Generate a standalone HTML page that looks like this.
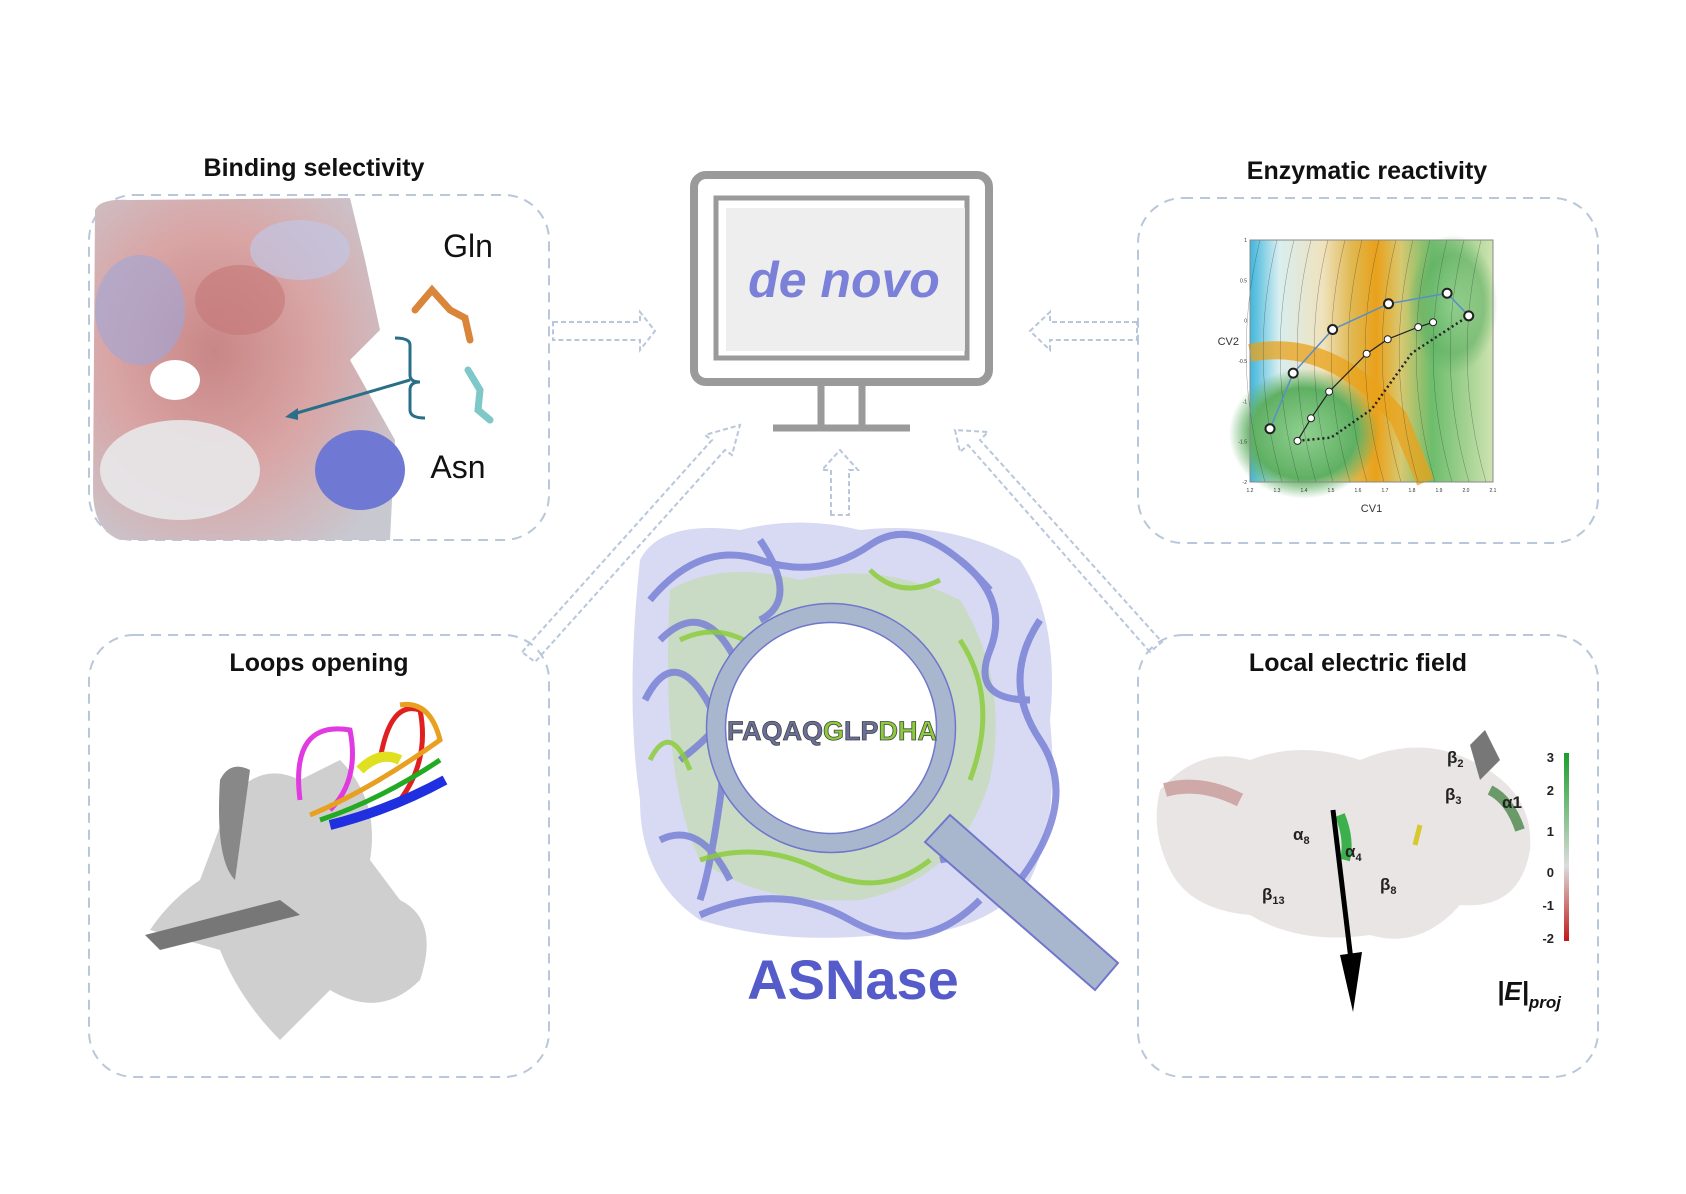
<!DOCTYPE html>
<html><head><meta charset="utf-8">
<style>
html,body{margin:0;padding:0;background:#fff;}
svg{display:block;}
text{font-family:"Liberation Sans",sans-serif;}
</style></head>
<body>
<svg width="1686" height="1194" viewBox="0 0 1686 1194" xmlns="http://www.w3.org/2000/svg">
<defs>
<radialGradient id="surf" cx="0.4" cy="0.45" r="0.7">
<stop offset="0" stop-color="#c98686"/><stop offset="0.5" stop-color="#d9a5a5"/><stop offset="1" stop-color="#c8c8d0"/></radialGradient>
<radialGradient id="g1" cx="0.5" cy="0.5" r="0.5"><stop offset="0" stop-color="#8fd08f"/><stop offset="0.7" stop-color="#5fb063"/><stop offset="1" stop-color="#5fb063" stop-opacity="0"/></radialGradient>
<linearGradient id="cmap" x1="0" x2="1" y1="0" y2="0">
<stop offset="0" stop-color="#3fb6dc"/><stop offset="0.12" stop-color="#d8eef0"/><stop offset="0.3" stop-color="#efe2bd"/><stop offset="0.42" stop-color="#e0b850"/><stop offset="0.52" stop-color="#e9a11a"/><stop offset="0.62" stop-color="#d8c870"/><stop offset="0.75" stop-color="#6cbd6c"/><stop offset="1" stop-color="#cfe3b0"/></linearGradient>
<linearGradient id="cbar" x1="0" x2="0" y1="0" y2="1"><stop offset="0" stop-color="#1a9e2a"/><stop offset="0.6" stop-color="#dcdcdc"/><stop offset="1" stop-color="#c01818"/></linearGradient>
</defs>

<g fill="none" stroke="#b8c7da" stroke-width="2" stroke-dasharray="10 7">
<rect x="89" y="195" width="460" height="345" rx="45"/>
<rect x="1138" y="198" width="460" height="345" rx="45"/>
<rect x="89" y="635" width="460" height="442" rx="45"/>
<rect x="1138" y="635" width="460" height="442" rx="45"/>
</g>

<g font-weight="bold" font-size="25" fill="#111" text-anchor="middle">
<text x="314" y="176">Binding selectivity</text>
<text x="1367" y="179">Enzymatic reactivity</text>
<text x="319" y="671">Loops opening</text>
<text x="1358" y="671">Local electric field</text>
</g>

<g>
<path d="M95 210 Q100 198 130 200 L350 198 L365 260 L380 330 L350 360 L395 440 L390 540 L120 540 Q93 530 93 490 Z" fill="url(#surf)"/>
<ellipse cx="140" cy="310" rx="45" ry="55" fill="#9fa6d9" opacity="0.6"/>
<ellipse cx="175" cy="380" rx="25" ry="20" fill="#fff"/>
<ellipse cx="180" cy="470" rx="80" ry="50" fill="#e8e8ea" opacity="0.9"/>
<ellipse cx="360" cy="470" rx="45" ry="40" fill="#6f79d4"/>
<ellipse cx="300" cy="250" rx="50" ry="30" fill="#c2c6e4" opacity="0.7"/>
<ellipse cx="240" cy="300" rx="45" ry="35" fill="#c47676" opacity="0.6"/>
<path d="M395 338 Q410 338 410 345 L410 375 Q410 382 420 382 Q410 382 410 390 L410 410 Q410 418 425 418" fill="none" stroke="#2a6f8a" stroke-width="3"/>
<line x1="410" y1="380" x2="290" y2="415" stroke="#2a6f8a" stroke-width="3"/>
<polygon points="285,417 298,408 298,420" fill="#2a6f8a"/>
<text x="468" y="257" font-family="Liberation Serif,serif" font-size="32" text-anchor="middle" fill="#111">Gln</text>
<text x="458" y="478" font-family="Liberation Serif,serif" font-size="32" text-anchor="middle" fill="#111">Asn</text>
<path d="M415 310 L432 290 L450 310 L465 318 L470 340" stroke="#d9853a" stroke-width="7" fill="none" stroke-linecap="round"/>
<path d="M468 370 L480 390 L478 410 L490 420" stroke="#7fc8c8" stroke-width="7" fill="none" stroke-linecap="round"/>
</g>

<g fill="none" stroke="#b8c7da" stroke-width="2" stroke-dasharray="5 3">
<path d="M553 322 L640 322 L640 312 L655 331 L640 350 L640 340 L553 340 Z"/>
<path d="M1137 322 L1050 322 L1050 312 L1030 331 L1050 350 L1050 340 L1137 340 Z"/>
<path d="M831 515 L831 470 L822 470 L840 450 L858 470 L849 470 L849 515 Z"/>
<path d="M522 652 L712 440 L705 435 L740 425 L732 455 L725 450 L535 662 Z"/>
<path d="M1150 652 L968 445 L960 452 L955 430 L988 432 L980 440 L1162 642 Z"/>
</g>

<g>
<rect x="694" y="175" width="295" height="207" rx="12" fill="#fff" stroke="#9a9a9a" stroke-width="8"/>
<rect x="716" y="198" width="251" height="160" fill="#fff" stroke="#9a9a9a" stroke-width="5"/>
<rect x="726" y="208" width="239" height="143" fill="#eeeeee"/>
<line x1="821" y1="382" x2="821" y2="427" stroke="#9a9a9a" stroke-width="7"/>
<line x1="862" y1="382" x2="862" y2="427" stroke="#9a9a9a" stroke-width="7"/>
<line x1="773" y1="428" x2="910" y2="428" stroke="#9a9a9a" stroke-width="7"/>
<text x="844" y="297" font-size="50" font-weight="bold" font-style="italic" fill="#7b80d8" text-anchor="middle">de novo</text>
</g>

<g>
<path d="M640 560 Q660 520 740 530 Q800 515 860 530 Q950 520 1020 560 Q1060 620 1050 720 Q1060 820 1030 880 Q980 940 880 935 Q780 945 700 920 Q640 880 640 800 Q625 700 640 560 Z" fill="#8f95dd" opacity="0.35"/>
<path d="M670 590 Q720 560 800 580 Q880 560 960 600 Q1010 680 990 780 Q960 880 860 900 Q760 905 700 860 Q660 780 670 590 Z" fill="#a6dd5e" opacity="0.3"/>
<g fill="none" stroke="#7a81d6" stroke-width="7" opacity="0.85">
<path d="M650 600 Q700 540 760 560 T870 545 T990 590"/>
<path d="M645 700 Q670 650 700 690 T720 800 T700 900"/>
<path d="M1040 620 Q1000 680 1040 740 T1020 880"/>
<path d="M700 915 Q780 880 850 920 T980 900"/>
<path d="M660 640 Q700 600 730 650 T680 760"/>
<path d="M960 560 Q1010 600 990 650 T1030 700"/>
<path d="M660 840 Q700 820 730 880"/>
<path d="M940 860 Q980 850 1000 900"/>
<path d="M760 540 Q800 600 760 620"/>
</g>
<g fill="none" stroke="#8ccc3c" stroke-width="5" opacity="0.85">
<path d="M680 640 Q720 620 760 650 T850 620"/>
<path d="M960 640 Q1000 700 970 780"/>
<path d="M700 860 Q760 840 820 870 T930 860"/>
<path d="M650 760 Q670 720 690 770"/>
<path d="M870 570 Q900 600 940 580"/>
</g>
</g>
<g>
<polygon points="925,842 950,815 1118,963 1095,990" fill="#a9b7ce" stroke="#6f76cc" stroke-width="2"/>
<circle cx="831" cy="728" r="115" fill="#fff" stroke="#a9b7ce" stroke-width="19"/>
<circle cx="831" cy="728" r="124.5" fill="none" stroke="#6f76cc" stroke-width="1.5"/>
<circle cx="831" cy="728" r="105.5" fill="none" stroke="#6f76cc" stroke-width="1.5"/>
<text x="832" y="740" font-size="27" font-weight="bold" text-anchor="middle" fill="#6a6f9a" stroke="#444" stroke-width="0.8">FAQAQ<tspan fill="#8ccc3c">G</tspan>LP<tspan fill="#8ccc3c">DHA</tspan></text>
</g>
<text x="853" y="999" font-size="56" font-weight="bold" fill="#555bc9" text-anchor="middle">ASNase</text>

<g>
<path d="M230 800 Q260 760 300 780 L340 760 Q380 800 370 860 L400 900 Q440 920 420 980 Q380 1020 330 990 L280 1040 Q240 1000 220 950 L150 930 Q170 900 200 880 Z" fill="#cfcfcf"/>
<path d="M220 780 Q230 760 250 770 L235 880 Q215 860 220 780Z" fill="#888"/>
<path d="M145 935 L280 900 L300 915 L160 950 Z" fill="#777"/>
<g fill="none" stroke-width="5">
<path d="M300 800 Q290 720 350 730 Q360 780 330 810" stroke="#e03ae0"/>
<path d="M380 760 Q390 700 420 710 Q430 760 400 800" stroke="#e02020"/>
<path d="M320 820 Q380 800 440 760" stroke="#22aa22"/>
<path d="M330 825 Q390 810 445 780" stroke="#2030e0" stroke-width="10"/>
<path d="M310 815 Q370 790 440 740 Q430 700 400 705" stroke="#e8a020"/>
<path d="M360 770 Q380 750 400 760" stroke="#e0e020" stroke-width="10"/>
</g>
</g>

<g id="fes"></g>

<g>
<path d="M1160 790 Q1200 745 1250 760 Q1300 740 1360 760 Q1420 735 1470 760 Q1535 790 1530 850 Q1520 910 1460 905 Q1420 950 1370 935 Q1300 945 1250 915 Q1190 910 1170 870 Q1150 830 1160 790 Z" fill="#e6e1e1" opacity="0.85"/>
<path d="M1165 790 Q1200 780 1240 800" stroke="#cfa8a8" stroke-width="14" fill="none"/>
<path d="M1470 745 L1485 730 L1500 760 L1480 780 Z" fill="#777"/>
<path d="M1490 790 Q1510 800 1520 830" stroke="#6a9a6a" stroke-width="10" fill="none"/>
<path d="M1340 815 Q1350 840 1345 860" stroke="#3cb04c" stroke-width="10" fill="none"/>
<path d="M1420 825 L1415 845" stroke="#d8c830" stroke-width="5"/>
<line x1="1333" y1="810" x2="1351" y2="960" stroke="#000" stroke-width="5"/>
<polygon points="1340,955 1362,952 1353,1012" fill="#000"/>
<g font-size="17" font-weight="bold" fill="#222">
<text x="1293" y="840">α<tspan font-size="11" dy="4">8</tspan></text>
<text x="1262" y="900">β<tspan font-size="11" dy="4">13</tspan></text>
<text x="1345" y="857">α<tspan font-size="11" dy="4">4</tspan></text>
<text x="1380" y="890">β<tspan font-size="11" dy="4">8</tspan></text>
<text x="1445" y="800">β<tspan font-size="11" dy="4">3</tspan></text>
<text x="1447" y="763">β<tspan font-size="11" dy="4">2</tspan></text>
<text x="1502" y="808">α1</text>
</g>
<rect x="1564" y="753" width="5" height="188" fill="url(#cbar)"/>
<g font-size="13" font-weight="bold" fill="#222" text-anchor="end">
<text x="1554" y="762">3</text><text x="1554" y="795">2</text><text x="1554" y="836">1</text><text x="1554" y="877">0</text><text x="1554" y="910">-1</text><text x="1554" y="943">-2</text>
</g>
<text x="1497" y="1000" font-family="Liberation Serif,serif" font-size="26" font-weight="bold" font-style="italic" fill="#111">|E|<tspan font-size="17" dy="8">proj</tspan></text>
</g>

<script>
const cv1Ticks=[1.2,1.3,1.4,1.5,1.6,1.7,1.8,1.9,2.0,2.1];
const cv2Ticks=[1,0.5,0,-0.5,-1,-1.5,-2];
const pathCV1=[1.274,1.36,1.506,1.713,1.93,2.01];
const pathCV2=[-1.34,-0.65,-0.11,0.21,0.34,0.06];
const midCV1=[1.376,1.426,1.493,1.632,1.71,1.823,1.878];
const midCV2=[-1.49,-1.21,-0.88,-0.41,-0.23,-0.08,-0.02];
const dotCV1=[1.376,1.5,1.65,1.8,2.01];
const dotCV2=[-1.49,-1.45,-1.1,-0.4,0.06];
const NS='http://www.w3.org/2000/svg';
const X0=1250,X1=1493,Y0=240,Y1=482;
function sx(v){return X0+(v-1.2)/(2.1-1.2)*(X1-X0);}
function sy(v){return Y0+(1-v)/(1-(-2))*(Y1-Y0);}
const g=document.getElementById('fes');
function mk(t,a){const e=document.createElementNS(NS,t);for(const k in a)e.setAttribute(k,a[k]);g.appendChild(e);return e;}
let bg=mk('rect',{x:X0,y:Y0,width:X1-X0,height:Y1-Y0,fill:'url(#cmap)'});


let gb=mk('ellipse',{cx:sx(1.4),cy:sy(-1.4),rx:75,ry:65,fill:'url(#g1)'});


let gb2=mk('ellipse',{cx:sx(1.95),cy:sy(0.2),rx:45,ry:70,fill:'url(#g1)',opacity:0.6});


let ob=mk('path',{d:`M${X0} ${sy(-0.4)} Q${sx(1.5)} ${sy(-0.2)} ${sx(1.75)} ${sy(-1.2)} L${sx(1.85)} ${sy(-2)}`,fill:'none',stroke:'#e9a11a','stroke-width':18,opacity:0.75});


for(let i=0;i<14;i++){let c=mk('path',{d:`M${X0+10+i*17} ${Y0} Q${X0+i*17-20} ${(Y0+Y1)/2} ${X0+15+i*17} ${Y1}`,fill:'none',stroke:'#333','stroke-width':0.5,opacity:0.5});

}
mk('rect',{x:X0,y:Y0,width:X1-X0,height:Y1-Y0,fill:'none',stroke:'#888','stroke-width':1});
let d='';pathCV1.forEach((v,i)=>{d+=(i?'L':'M')+sx(v)+' '+sy(pathCV2[i]);});
let pl=mk('path',{d:d,fill:'none',stroke:'#5a8ec8','stroke-width':1.5});


let d2='';midCV1.forEach((v,i)=>{d2+=(i?'L':'M')+sx(v)+' '+sy(midCV2[i]);});
let ml=mk('path',{d:d2,fill:'none',stroke:'#222','stroke-width':1.2});


let d3='';dotCV1.forEach((v,i)=>{d3+=(i?'L':'M')+sx(v)+' '+sy(dotCV2[i]);});
let dl=mk('path',{d:d3,fill:'none',stroke:'#222','stroke-width':2.5,'stroke-dasharray':'2 3'});


pathCV1.forEach((v,i)=>{let c=mk('circle',{cx:sx(v),cy:sy(pathCV2[i]),r:4.5,fill:'#fff',stroke:'#222','stroke-width':2});

});
midCV1.forEach((v,i)=>{let c=mk('circle',{cx:sx(v),cy:sy(midCV2[i]),r:3.5,fill:'#fff',stroke:'#222','stroke-width':1});

});
cv1Ticks.forEach(v=>{let t=mk('text',{x:sx(v),y:Y1+10,'font-size':5,'text-anchor':'middle',fill:'#333'});t.textContent=v.toFixed(1);

});
cv2Ticks.forEach(v=>{let t=mk('text',{x:X0-3,y:sy(v)+2,'font-size':5,'text-anchor':'end',fill:'#333'});t.textContent=v;

});
let xt=mk('text',{x:(X0+X1)/2,y:Y1+30,'font-size':11,'font-family':'Liberation Serif,serif','text-anchor':'middle',fill:'#333'});xt.textContent='CV1';


let yt=mk('text',{x:X0-11,y:sy(-0.3),'font-size':11,'font-family':'Liberation Serif,serif','text-anchor':'end',fill:'#333'});yt.textContent='CV2';


</script>
</svg>
</body></html>
